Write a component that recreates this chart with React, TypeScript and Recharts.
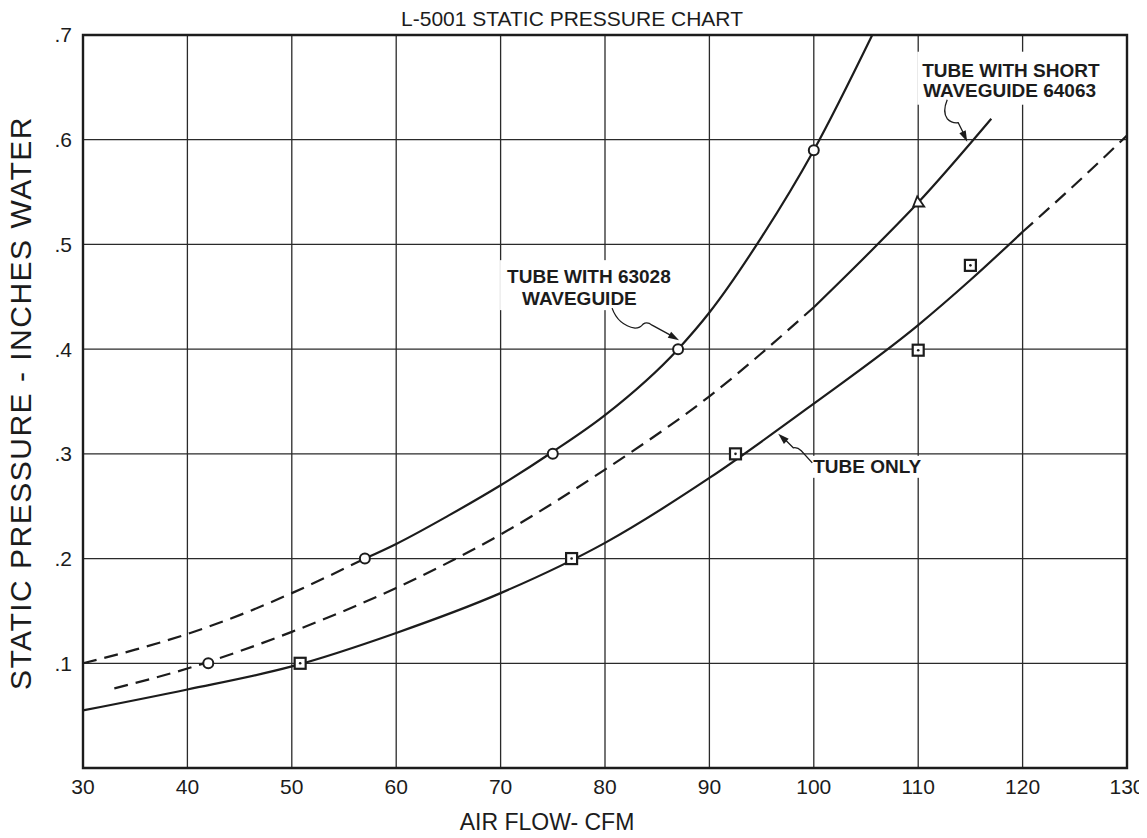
import React from 'react';
import { ComposedChart, Line, Scatter, XAxis, YAxis, CartesianGrid, ReferenceArea, ReferenceDot, Label } from 'recharts';

const xTicks = [30, 40, 50, 60, 70, 80, 90, 100, 110, 120, 130];
const yTicks = [0, 0.1, 0.2, 0.3, 0.4, 0.5, 0.6, 0.7];

// tube with 63028 waveguide
const wg63028Dashed = [
  { x: 30, y: 0.1 }, { x: 35, y: 0.113 }, { x: 40, y: 0.128 }, { x: 45, y: 0.146 },
  { x: 50, y: 0.167 }, { x: 57, y: 0.2 },
];
const wg63028Solid = [
  { x: 57, y: 0.2 }, { x: 60, y: 0.214 }, { x: 65, y: 0.241 }, { x: 70, y: 0.27 },
  { x: 75, y: 0.302 }, { x: 80, y: 0.337 }, { x: 87, y: 0.4 }, { x: 90, y: 0.435 },
  { x: 95, y: 0.507 }, { x: 100, y: 0.59 }, { x: 105.6, y: 0.7 },
];

// tube with short waveguide 64063
const shortDashed = [
  { x: 33, y: 0.076 }, { x: 40, y: 0.095 }, { x: 50, y: 0.13 }, { x: 60, y: 0.172 },
  { x: 70, y: 0.223 }, { x: 80, y: 0.285 }, { x: 90, y: 0.355 }, { x: 100, y: 0.44 },
];
const shortSolid = [
  { x: 100, y: 0.44 }, { x: 105, y: 0.489 }, { x: 110, y: 0.54 }, { x: 117, y: 0.62 },
];

// tube only
const tubeSolid = [
  { x: 30, y: 0.055 }, { x: 40, y: 0.075 }, { x: 50, y: 0.097 }, { x: 60, y: 0.129 },
  { x: 70, y: 0.167 }, { x: 80, y: 0.215 }, { x: 90, y: 0.277 }, { x: 100, y: 0.348 },
  { x: 110, y: 0.423 }, { x: 115, y: 0.466 }, { x: 120, y: 0.512 },
];
const tubeDashed = [
  { x: 120, y: 0.512 }, { x: 125, y: 0.557 }, { x: 130, y: 0.604 },
];

// measured points
const circlePts = [
  { x: 42, y: 0.1 }, { x: 57, y: 0.2 }, { x: 75, y: 0.3 }, { x: 87, y: 0.4 }, { x: 100, y: 0.59 },
];
const trianglePts = [{ x: 110, y: 0.541 }];
const squarePts = [
  { x: 50.8, y: 0.1 }, { x: 76.8, y: 0.2 }, { x: 92.5, y: 0.3 }, { x: 110, y: 0.399 }, { x: 115, y: 0.48 },
];

const INK = '#1c1c1c';
const FONT = '"Liberation Sans", Arial, sans-serif';

const arrowHead = (fx: number, fy: number, tx: number, ty: number) => {
  const dx = tx - fx;
  const dy = ty - fy;
  const len = Math.sqrt(dx * dx + dy * dy) || 1;
  const ux = dx / len;
  const uy = dy / len;
  const bx = tx - ux * 11;
  const by = ty - uy * 11;
  return `${tx},${ty} ${bx - uy * 3.5},${by + ux * 3.5} ${bx + uy * 3.5},${by - ux * 3.5}`;
};

const textStyle = { fontFamily: FONT, fontSize: 19, fontWeight: 700, fill: INK } as const;

const Note63028 = (p: any) => {
  const { cx, cy } = p;
  return (
    <g transform={`translate(${cx},${cy})`}>
      <rect x={-178} y={-89} width={192} height={50} fill="#fff" />
      <text x={-171} y={-66} style={textStyle}>TUBE WITH 63028</text>
      <text x={-156} y={-44} style={textStyle}>WAVEGUIDE</text>
      <path d="M-66,-41 Q-60,-24 -43,-21 Q-38,-21 -35,-25 Q-31,-28 -26,-24 L-4,-12" fill="none" stroke={INK} strokeWidth={1.3} />
      <polygon points={arrowHead(-26, -24, 1, -9)} fill={INK} />
    </g>
  );
};

const NoteShort = (p: any) => {
  const { cx, cy } = p;
  return (
    <g transform={`translate(${cx},${cy})`}>
      <rect x={-49} y={-88} width={193} height={53} fill="#fff" />
      <text x={-44} y={-63} style={textStyle}>TUBE WITH SHORT</text>
      <text x={-43} y={-43} style={textStyle}>WAVEGUIDE 64063</text>
      <path d="M-19,-40 Q-24,-28 -19,-21 Q-14,-16 -8,-17 L-1,-3" fill="none" stroke={INK} strokeWidth={1.3} />
      <polygon points={arrowHead(-8, -17, 1, 2)} fill={INK} />
    </g>
  );
};

const NoteTube = (p: any) => {
  const { cx, cy } = p;
  return (
    <g transform={`translate(${cx},${cy})`}>
      <rect x={31} y={25} width={117} height={22} fill="#fff" />
      <text x={36} y={42} style={textStyle}>TUBE ONLY</text>
      <path d="M35,32 L24,20 Q20,16 16,17 L5,6" fill="none" stroke={INK} strokeWidth={1.3} />
      <polygon points={arrowHead(16, 17, 1, 3)} fill={INK} />
    </g>
  );
};

const CircleMark = (p: any) => (
  <circle cx={p.cx} cy={p.cy} r={5} fill="#fff" stroke={INK} strokeWidth={2} />
);
const SquareMark = (p: any) => (
  <g>
    <rect x={p.cx - 5.5} y={p.cy - 5.5} width={11} height={11} fill="#fff" stroke={INK} strokeWidth={2.2} />
    <circle cx={p.cx} cy={p.cy} r={1.3} fill={INK} />
  </g>
);
const TriangleMark = (p: any) => (
  <polygon
    points={`${p.cx - 5},${p.cy + 5} ${p.cx + 6},${p.cy + 5} ${p.cx - 1},${p.cy - 5}`}
    fill="#fff" stroke={INK} strokeWidth={1.8}
  />
);

const yFmt = (v: number) => (v === 0 ? '' : '.' + Math.round(v * 10));

export default function App() {
  const lineProps = {
    dataKey: 'y',
    type: 'monotone' as const,
    stroke: INK,
    strokeWidth: 2.2,
    dot: false,
    activeDot: false,
    isAnimationActive: false,
  };
  return (
    <div style={{ position: 'relative', width: 1139, height: 830, background: '#fff' }}>
      <ComposedChart width={1139} height={830} margin={{ top: 27, right: 20, bottom: 8, left: 0 }}>
        <CartesianGrid stroke="#2a2a2a" strokeWidth={1.3} />
        <XAxis
          dataKey="x" type="number" domain={[30, 130]} ticks={xTicks} height={62}
          axisLine={false} tickLine={false} tickSize={0} tickMargin={11} interval={0}
          tick={{ fill: INK, fontSize: 21, fontFamily: FONT }}
        >
          <Label value="AIR FLOW- CFM" position="insideBottom" offset={0} dx={-58}
            style={{ fill: INK, fontSize: 23, fontFamily: FONT }} />
        </XAxis>
        <YAxis
          type="number" domain={[0, 0.7]} ticks={yTicks} width={75} tickFormatter={yFmt}
          axisLine={false} tickLine={false} tickSize={0} tickMargin={11} interval={0}
          tick={{ fill: INK, fontSize: 21, fontFamily: FONT }}
        />
        <ReferenceArea x1={30} x2={130} y1={0} y2={0.7} fill="none" stroke={INK} strokeWidth={2.4} ifOverflow="visible" />
        <ReferenceDot x={87} y={0.4} r={0} shape={(p: any) => <Note63028 {...p} />} />
        <ReferenceDot x={114.6} y={0.6} r={0} shape={(p: any) => <NoteShort {...p} />} />
        <ReferenceDot x={96.5} y={0.322} r={0} shape={(p: any) => <NoteTube {...p} />} />
        <Line {...lineProps} data={wg63028Dashed} strokeDasharray="14 8" />
        <Line {...lineProps} data={wg63028Solid} />
        <Line {...lineProps} data={shortDashed} strokeDasharray="14 8" />
        <Line {...lineProps} data={shortSolid} />
        <Line {...lineProps} data={tubeSolid} />
        <Line {...lineProps} data={tubeDashed} strokeDasharray="14 8" />
        <Scatter data={circlePts} dataKey="y" shape={CircleMark} isAnimationActive={false} />
        <Scatter data={squarePts} dataKey="y" shape={SquareMark} isAnimationActive={false} />
        <Scatter data={trianglePts} dataKey="y" shape={TriangleMark} isAnimationActive={false} />
      </ComposedChart>
      <div style={{
        position: 'absolute', left: 0, top: 0, width: 1128, textAlign: 'center',
        fontFamily: FONT, fontSize: 21, lineHeight: '21px', color: INK,
      }}>
        L-5001 STATIC PRESSURE CHART
      </div>
      <div style={{
        position: 'absolute', left: -2, top: 95, width: 30, height: 600,
        writingMode: 'vertical-rl', transform: 'rotate(180deg)', textAlign: 'center',
        fontFamily: FONT, fontSize: 30, lineHeight: '30px', letterSpacing: 1.5, color: INK,
        whiteSpace: 'nowrap',
      }}>
        STATIC PRESSURE - INCHES WATER
      </div>
    </div>
  );
}
